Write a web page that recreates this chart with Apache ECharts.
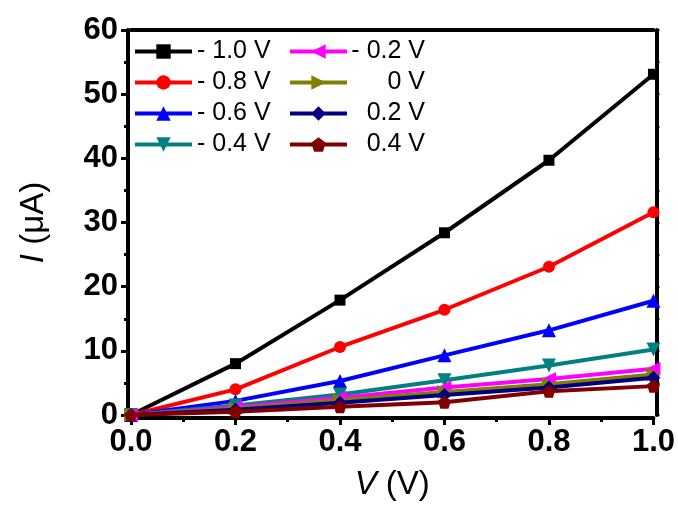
<!DOCTYPE html>
<html><head><meta charset="utf-8">
<script src="https://cdn.jsdelivr.net/npm/echarts@6/dist/echarts.min.js"></script>
<style>html,body{margin:0;padding:0;background:#fff}#c{width:678px;height:506px}</style>
</head><body><div id="c"></div>
<script>
// Bias voltage V (x axis)
const voltages = [0, 0.2, 0.4, 0.6, 0.8, 1.0];
// Gate voltage series names
const seriesNames = ['- 1.0 V', '- 0.8 V', '- 0.6 V', '- 0.4 V', '- 0.2 V', '0 V', '0.2 V', '0.4 V'];
// Current I (uA) per series
const iNeg10 = [0, 8.0, 17.9, 28.4, 39.7, 53.1];
const iNeg08 = [0, 4.0, 10.6, 16.4, 23.1, 31.6];
const iNeg06 = [0, 2.2, 5.3, 9.3, 13.2, 17.8];
const iNeg04 = [0, 1.5, 3.2, 5.4, 7.7, 10.2];
const iNeg02 = [0, 1.2, 2.7, 4.3, 5.6, 7.2];
const iZero  = [0, 1.0, 2.3, 3.6, 4.8, 6.3];
const iPos02 = [0, 0.8, 1.9, 3.1, 4.3, 5.8];
const iPos04 = [0, 0.5, 1.3, 2.0, 3.7, 4.5];
const yTicks = [0, 10, 20, 30, 40, 50, 60];
const xTicks = [0, 0.2, 0.4, 0.6, 0.8, 1.0];

const allData = [iNeg10, iNeg08, iNeg06, iNeg04, iNeg02, iZero, iPos02, iPos04];
const colors = ['#000000', '#ff0000', '#0000ff', '#008080', '#ff00ff', '#808000', '#000080', '#800000'];
const symbols = [
  'rect', 'circle', 'triangle',
  'path://M-1,-1 L1,-1 L0,1 Z',
  'path://M1,-1 L1,1 L-1,0 Z',
  'path://M-1,-1 L-1,1 L1,0 Z',
  'diamond',
  'path://M0,-1 L0.951,-0.309 L0.588,0.809 L-0.588,0.809 L-0.951,-0.309 Z'
];
const sizes = [11, 12, 14, 14, 14, 14, 14, 13];
const FONT = "'Liberation Sans', Arial, sans-serif";

const series = allData.map((arr, k) => ({
  name: seriesNames[k],
  type: 'line',
  data: arr.map((v, i) => [voltages[i], v]),
  symbol: symbols[k],
  symbolSize: sizes[k],
  showAllSymbol: true,
  color: colors[k],
  lineStyle: { width: 4, color: colors[k] },
  itemStyle: { color: colors[k] },
  z: 2 + k,
  animation: false
}));

const legendCommon = {
  orient: 'vertical', top: 39,
  itemWidth: 57, itemHeight: 18, itemGap: 6,
  lineStyle: { width: 4 },
  padding: 0
};

const chart = echarts.init(document.getElementById('c'), null, { renderer: 'canvas' });
chart.setOption({
  backgroundColor: '#fff',
  animation: false,
  grid: { left: 131, right: 23.5, top: 30, bottom: 89.5, show: false },
  legend: [
    Object.assign({}, legendCommon, {
      data: seriesNames.slice(0, 4), left: 133,
      textStyle: { fontFamily: FONT, fontSize: 25, color: '#000', lineHeight: 24 }
    }),
    Object.assign({}, legendCommon, {
      data: seriesNames.slice(4), left: 288,
      formatter: n => '{r|' + n + '}',
      textStyle: { fontFamily: FONT, fontSize: 25, color: '#000', lineHeight: 24,
        rich: { r: { width: 73, align: 'right', fontFamily: FONT, fontSize: 25, color: '#000', lineHeight: 24 } } }
    })
  ],
  xAxis: [
    {
      type: 'value', min: xTicks[0], max: xTicks[xTicks.length - 1], interval: 0.2, offset: 3,
      axisLine: { show: true, onZero: false, lineStyle: { color: '#000', width: 4 } },
      axisTick: { show: true, inside: false, length: 7, lineStyle: { width: 3, color: '#000' } },
      minorTick: { show: true, splitNumber: 2, length: 4, lineStyle: { width: 3, color: '#000' } },
      splitLine: { show: false },
      axisLabel: { fontFamily: FONT, fontSize: 31, fontWeight: 'bold', color: '#000', margin: 9,
        formatter: v => v.toFixed(1) },
      name: '{i|V} (V)', nameLocation: 'middle', nameGap: 50,
      nameTextStyle: { fontFamily: FONT, fontSize: 33, color: '#000',
        rich: { i: { fontFamily: FONT, fontSize: 33, fontStyle: 'italic', color: '#000' } } }
    },
    {
      type: 'value', position: 'top', min: 0, max: 1, interval: 0.2,
      axisLine: { show: true, onZero: false, lineStyle: { color: '#000', width: 4 } },
      axisTick: { show: false }, axisLabel: { show: false }, splitLine: { show: false }
    }
  ],
  yAxis: [
    {
      type: 'value', min: yTicks[0], max: yTicks[yTicks.length - 1], interval: 10, offset: 3,
      axisLine: { show: true, onZero: false, lineStyle: { color: '#000', width: 4 } },
      axisTick: { show: true, inside: false, length: 7, lineStyle: { width: 3, color: '#000' } },
      minorTick: { show: true, splitNumber: 2, length: 4, lineStyle: { width: 3, color: '#000' } },
      splitLine: { show: false },
      axisLabel: { fontFamily: FONT, fontSize: 31, fontWeight: 'bold', color: '#000', margin: 10 },
      name: '{i|I} (μA)', nameLocation: 'middle', nameGap: 78, nameRotate: 90,
      nameTextStyle: { fontFamily: FONT, fontSize: 33, color: '#000',
        rich: { i: { fontFamily: FONT, fontSize: 33, fontStyle: 'italic', color: '#000' } } }
    },
    {
      type: 'value', position: 'right', min: 0, max: 60, interval: 10, offset: 3,
      axisLine: { show: true, onZero: false, lineStyle: { color: '#000', width: 4 } },
      axisTick: { show: true, inside: false, length: 3, lineStyle: { width: 2, color: '#000' } },
      minorTick: { show: true, splitNumber: 2, length: 3, lineStyle: { width: 2, color: '#000' } },
      axisLabel: { show: false }, splitLine: { show: false }
    }
  ],
  series: series
});
</script>
</body></html>
